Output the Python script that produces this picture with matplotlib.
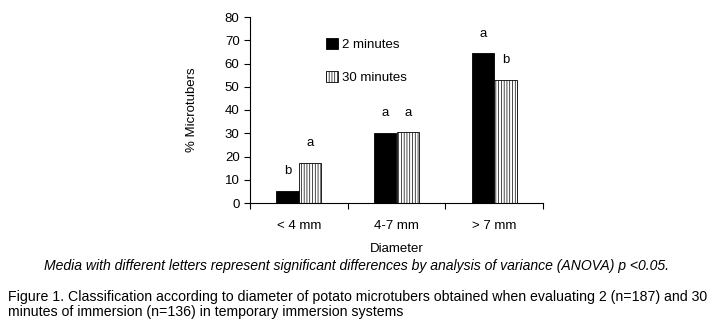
import numpy as np
import matplotlib.pyplot as plt

plt.rcParams['font.family'] = ['Liberation Sans', 'DejaVu Sans']
plt.rcParams['hatch.linewidth'] = 0.5

categories = ["< 4 mm", "4-7 mm", "> 7 mm"]
series_names = ["2 minutes", "30 minutes"]
min2 = [5.3, 30.3, 64.4]
min30 = [17.1, 30.4, 52.8]
letters_2 = ["b", "a", "a"]
letters_30 = ["a", "a", "b"]

fig = plt.figure(figsize=(7.14, 3.28), dpi=100)
ax = fig.add_axes([250 / 714, 1 - 203 / 328, 293 / 714, 186 / 328])

x = np.arange(len(categories))
w = 0.23
ax.bar(x - w / 2, min2, w, color="black", edgecolor="black", linewidth=0.6, label=series_names[0])
ax.bar(x + w / 2, min30, w, color="white", edgecolor="black", linewidth=0.6,
       hatch="||||||", label=series_names[1])

for xi, v, t in zip(x - w / 2, min2, letters_2):
    ax.text(xi, v + 8.5, t, ha="center", va="center", fontsize=9.5)
for xi, v, t in zip(x + w / 2, min30, letters_30):
    ax.text(xi, v + 8.5, t, ha="center", va="center", fontsize=9.5)

ax.set_xlim(-0.5, 2.5)
ax.set_ylim(0, 80)
ax.set_yticks(range(0, 81, 10))
ax.set_xticks([-0.5, 0.5, 1.5, 2.5])
ax.set_xticklabels([])
ax.set_xticks(x, minor=True)
ax.set_xticklabels(categories, minor=True)
ax.tick_params(axis="x", which="minor", length=0, pad=12, labelsize=9.5)
ax.tick_params(axis="x", which="major", direction="out", length=4)
ax.tick_params(axis="y", direction="out", length=4, labelsize=9.5)
ax.spines["top"].set_visible(False)
ax.spines["right"].set_visible(False)
ax.set_ylabel("% Microtubers", fontsize=9.5, labelpad=19)
ax.set_xlabel("Diameter", fontsize=9.5, labelpad=8)

ax.legend(loc="upper left", bbox_to_anchor=(0.22, 0.95), frameon=False, fontsize=9.5,
          handlelength=0.9, handleheight=0.9, handletextpad=0.3, labelspacing=1.5)

fig.text(0.5, 1 - 266 / 328, "Media with different letters represent significant differences by analysis of variance (ANOVA) p <0.05.",
         ha="center", va="center", fontsize=10.1, style="italic")
fig.text(8 / 714, 1 - 297 / 328,
         "Figure 1. Classification according to diameter of potato microtubers obtained when evaluating 2 (n=187) and 30",
         ha="left", va="center", fontsize=10.2)
fig.text(8 / 714, 1 - 312 / 328,
         "minutes of immersion (n=136) in temporary immersion systems",
         ha="left", va="center", fontsize=10.2)

fig.savefig("out.png", dpi=100)
